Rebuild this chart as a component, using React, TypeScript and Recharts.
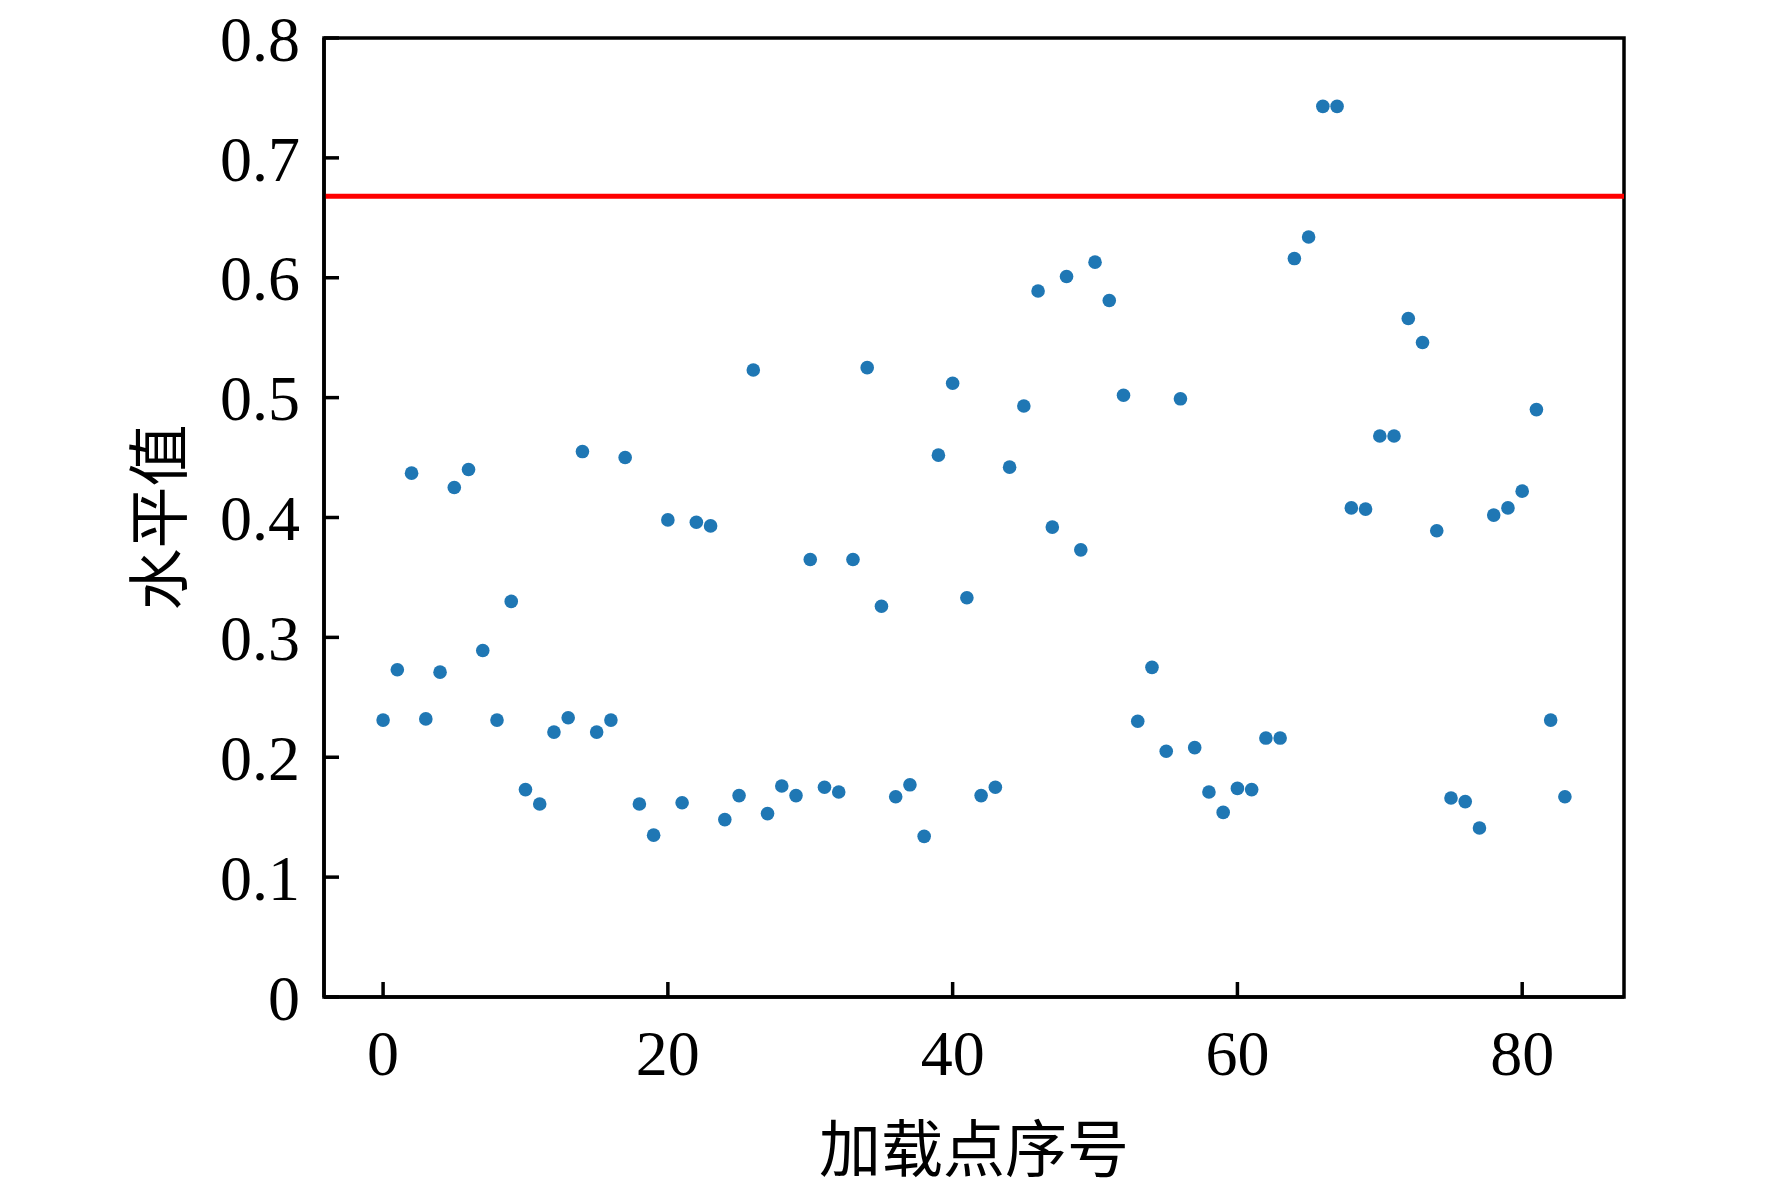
import React from 'react';
import { ScatterChart, Scatter, XAxis, YAxis, ReferenceLine, ReferenceArea } from 'recharts';

const pointIndex: number[] = Array.from({ length: 84 }, (_, i) => i);

const levelValues: number[] = [
  0.231, 0.273, 0.437, 0.232, 0.271, 0.425, 0.440, 0.289, 0.231, 0.330,
  0.173, 0.161, 0.221, 0.233, 0.455, 0.221, 0.231, 0.450, 0.161, 0.135,
  0.398, 0.162, 0.396, 0.393, 0.148, 0.168, 0.523, 0.153, 0.176, 0.168,
  0.365, 0.175, 0.171, 0.365, 0.525, 0.326, 0.167, 0.177, 0.134, 0.452,
  0.512, 0.333, 0.168, 0.175, 0.442, 0.493, 0.589, 0.392, 0.601, 0.373,
  0.613, 0.581, 0.502, 0.230, 0.275, 0.205, 0.499, 0.208, 0.171, 0.154,
  0.174, 0.173, 0.216, 0.216, 0.616, 0.634, 0.743, 0.743, 0.408, 0.407,
  0.468, 0.468, 0.566, 0.546, 0.389, 0.166, 0.163, 0.141, 0.402, 0.408,
  0.422, 0.490, 0.231, 0.167,
];

const thresholdValue = 0.668;

const xTicks: number[] = [0, 20, 40, 60, 80];
const yTicks: number[] = [0, 0.1, 0.2, 0.3, 0.4, 0.5, 0.6, 0.7, 0.8];
const xDomain: [number, number] = [-4.15, 87.15];
const yDomain: [number, number] = [0, 0.8];

const xTitle = '加载点序号';
const yTitle = '水平值';

const data = pointIndex.map((i) => ({ x: i, y: levelValues[i] }));

const tickFont = { fontFamily: '"Liberation Serif", "Times New Roman", serif', fontSize: 64, fill: '#000' };
const cjkFont = '"Noto Sans CJK SC", sans-serif';

const Dot = (props: any) => <circle cx={props.cx} cy={props.cy} r={6.8} fill="#1f77b4" />;

export default function App() {
  return (
    <div style={{ position: 'absolute', left: 0, top: 0, width: 1772, height: 1194, background: '#fff' }}>
      <ScatterChart width={1772} height={1194} margin={{ top: 38, right: 148, bottom: 137, left: 100 }}>
        <XAxis
          type="number"
          dataKey="x"
          domain={xDomain}
          allowDataOverflow
          ticks={xTicks}
          interval={0}
          height={60}
          tick={tickFont}
          tickSize={-15}
          tickMargin={48}
          tickLine={{ stroke: '#000', strokeWidth: 3.5 }}
          axisLine={{ stroke: '#000', strokeWidth: 3.5 }}
          label={{
            content: (p: any) => {
              const vb = p.viewBox;
              return (
                <text x={vb.x + vb.width / 2} y={vb.y + 148} textAnchor="middle" dominantBaseline="central"
                  fontFamily={cjkFont} fontSize={62} fill="#000">{xTitle}</text>
              );
            },
          }}
        />
        <YAxis
          type="number"
          dataKey="y"
          domain={yDomain}
          allowDataOverflow
          ticks={yTicks}
          interval={0}
          width={224}
          tick={tickFont}
          tickFormatter={(v: number) => (v === 0 ? '0' : v.toFixed(1))}
          tickSize={-15}
          tickMargin={39}
          tickLine={{ stroke: '#000', strokeWidth: 3.5 }}
          axisLine={{ stroke: '#000', strokeWidth: 3.5 }}
          label={{
            content: (p: any) => {
              const vb = p.viewBox;
              const cx = vb.x + 55;
              const cy = vb.y + vb.height / 2;
              return (
                <text x={cx} y={cy} textAnchor="middle" dominantBaseline="central"
                  transform={`rotate(-90 ${cx} ${cy})`}
                  fontFamily={cjkFont} fontSize={62} fill="#000">{yTitle}</text>
              );
            },
          }}
        />
        <ReferenceArea x1={xDomain[0]} x2={xDomain[1]} y1={yDomain[0]} y2={yDomain[1]}
          fill="none" stroke="#000" strokeWidth={3.5} ifOverflow="visible" />
        <ReferenceLine y={thresholdValue} stroke="#ff0000" strokeWidth={5} />
        <Scatter data={data} shape={Dot} isAnimationActive={false} />
      </ScatterChart>
    </div>
  );
}
